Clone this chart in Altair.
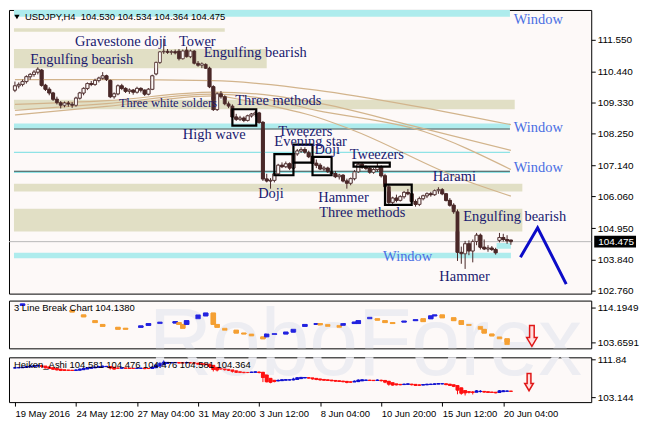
import altair as alt
import pandas as pd

# ---------------- data ----------------
OPEN = [109.78,109.93,109.98,110.08,110.25,110.33,110.41,110.48,109.95,109.81,
        109.68,109.46,109.34,109.25,109.33,109.29,109.25,109.50,109.68,109.84,
        110.01,109.98,110.12,110.20,110.28,110.12,109.55,109.65,109.93,109.84,
        109.74,109.78,109.71,109.84,109.78,109.64,109.81,110.35,110.75,111.12,
        111.14,111.10,111.13,111.15,110.88,111.18,110.95,111.15,110.72,110.65,
        110.68,110.55,109.90,109.10,109.65,109.55,109.30,109.22,108.84,108.76,
        108.80,108.72,108.88,108.94,108.98,108.65,106.67,106.60,106.62,106.85,
        107.15,107.10,107.20,107.05,107.55,107.65,107.70,107.60,107.45,107.22,
        107.15,107.02,107.05,106.92,106.86,106.75,106.80,106.60,106.52,106.68,
        106.92,107.18,107.08,107.04,106.90,107.00,107.10,106.78,106.40,105.85,
        106.00,105.92,106.05,106.20,106.15,105.88,105.78,105.98,106.08,106.15,
        106.12,106.26,106.30,106.15,105.92,105.75,105.52,104.10,104.05,104.40,
        104.15,104.48,104.70,104.28,104.22,104.25,104.20,104.52,104.62,104.55,
        104.530]
HIGH = [110.08,110.05,110.15,110.30,110.38,110.48,110.58,110.52,110.00,109.88,
        109.72,109.55,109.40,109.38,109.40,109.36,109.55,109.72,109.88,110.05,
        110.10,110.18,110.25,110.41,110.32,110.15,109.70,109.98,110.00,109.88,
        109.84,109.82,109.90,109.88,109.80,109.85,110.32,110.78,111.15,111.58,
        111.22,111.18,111.20,111.22,111.20,111.30,111.20,111.18,110.80,110.75,
        110.72,110.60,109.95,109.70,109.75,109.60,109.38,109.28,108.95,108.88,
        108.86,108.92,108.98,109.05,109.02,108.70,106.85,106.70,106.90,107.20,
        107.25,107.28,107.25,107.60,107.72,107.78,107.78,107.66,107.50,107.35,
        107.22,107.12,107.10,107.00,106.95,106.85,106.84,106.68,106.72,106.98,
        107.24,107.24,107.15,107.12,107.05,107.24,107.15,106.85,106.48,106.05,
        106.12,106.10,106.25,106.32,106.18,105.95,106.05,106.12,106.20,106.22,
        106.30,106.38,106.35,106.18,106.00,105.82,105.60,104.30,104.50,104.52,
        104.55,104.78,104.76,104.55,104.35,104.32,104.26,104.78,104.75,104.70,
        104.534]
LOW = [109.71,109.84,109.91,110.01,110.15,110.25,110.33,109.90,109.75,109.60,
       109.40,109.28,109.14,109.18,109.20,109.16,109.20,109.45,109.60,109.78,
       109.92,109.93,110.05,110.15,110.10,109.50,109.48,109.60,109.78,109.68,
       109.65,109.62,109.66,109.70,109.58,109.60,109.78,110.30,110.70,111.05,
       111.05,111.02,111.03,110.82,110.85,110.92,110.90,110.68,110.60,110.55,
       110.52,109.85,109.05,109.05,109.48,109.25,109.15,108.80,108.70,108.70,
       108.66,108.68,108.82,108.85,108.60,106.60,106.55,106.33,106.55,106.80,
       107.05,107.05,106.98,107.00,107.48,107.58,107.55,107.40,107.18,107.05,
       106.98,106.95,106.88,106.82,106.70,106.65,106.55,106.33,106.45,106.62,
       106.88,107.02,106.98,106.85,106.85,106.92,106.72,106.35,105.78,105.78,
       105.85,105.88,105.98,106.10,105.82,105.70,105.72,105.92,106.00,106.05,
       106.08,106.15,106.10,105.88,105.70,105.45,103.80,103.70,103.52,104.00,
       103.75,104.35,104.20,104.18,104.12,104.15,104.02,104.45,104.48,104.40,
       104.364]
CLOSE = [109.93,109.98,110.08,110.25,110.33,110.41,110.51,109.95,109.81,109.68,
         109.46,109.34,109.25,109.33,109.29,109.25,109.50,109.68,109.84,110.01,
         109.98,110.12,110.20,110.28,110.15,109.55,109.65,109.93,109.84,109.74,
         109.78,109.71,109.84,109.78,109.64,109.81,110.28,110.75,111.12,111.14,
         111.10,111.13,111.08,110.88,111.15,110.95,111.15,110.72,110.65,110.70,
         110.55,109.90,109.10,109.65,109.55,109.30,109.22,108.84,108.76,108.80,
         108.72,108.88,108.94,108.98,108.65,106.67,106.60,106.62,106.85,107.15,
         107.10,107.20,107.05,107.55,107.65,107.70,107.60,107.45,107.22,107.15,
         107.02,107.05,106.92,106.86,106.75,106.80,106.60,106.52,106.68,106.92,
         107.18,107.08,107.04,106.90,107.00,107.10,106.78,106.40,105.85,106.00,
         105.92,106.05,106.20,106.15,105.88,105.78,105.98,106.08,106.15,106.12,
         106.26,106.30,106.15,105.92,105.75,105.52,104.10,104.05,104.40,104.15,
         104.48,104.70,104.28,104.22,104.25,104.20,104.08,104.62,104.55,104.50,
         104.475]

X_TICKS = [0, 16, 32, 48, 64, 80, 96, 112, 128]
X_LABELS = ["19 May 2016", "24 May 12:00", "27 May 04:00", "31 May 20:00", "3 Jun 12:00",
            "8 Jun 04:00", "10 Jun 20:00", "15 Jun 12:00", "20 Jun 04:00"]
MAIN_TICKS = [111.55, 110.44, 109.33, 108.25, 107.14, 106.06, 104.95, 103.84, 102.76]
LB_TICKS = [114.1949, 103.6591]
HA_TICKS = [111.84, 103.144]

# moving averages (knots)
MA1_X = [0, 24, 52, 64, 79, 104, 130]
MA1_Y = [110.15, 110.15, 110.11, 110.01, 109.78, 109.24, 108.57]
MA2_X = [0, 24, 52, 64, 79, 104, 130]
MA2_Y = [109.28, 109.41, 109.71, 109.64, 109.34, 108.54, 107.67]
MA3_X = [0, 24, 52, 64, 79, 107, 130]
MA3_Y = [109.07, 109.31, 109.64, 109.51, 109.07, 108.34, 107.00]
MA4_X = [0, 24, 52, 64, 79, 88, 117, 130]
MA4_Y = [108.91, 109.21, 109.58, 109.31, 108.84, 108.41, 106.67, 106.07]

# support / resistance zones
KHAKI_X1 = [-0.25, -0.25, -0.25, -0.25, -0.25]
KHAKI_X2 = [55, 66, 131, 133, 133]
KHAKI_P1 = [111.95, 111.22, 109.44, 106.50, 105.63]
KHAKI_P2 = [111.82, 110.55, 109.11, 106.23, 104.83]
CYAN_X1 = [-0.25, -0.25, -0.25, 126.25]
CYAN_X2 = [129.75, 129.75, 130, 130]
CYAN_P1 = [112.59, 108.61, 104.09, 104.43]
CYAN_P2 = [112.35, 108.44, 103.89, 104.23]
CYAN_LINES = [107.60, 106.90]
DARK_LINES = [108.42, 106.94]

# pattern boxes
BOX_X1 = [57, 68, 73, 78, 88.75, 97]
BOX_X2 = [63.25, 73, 78, 83, 98.25, 104]
BOX_P1 = [109.11, 107.54, 107.87, 107.44, 107.24, 106.47]
BOX_P2 = [108.54, 106.80, 107.24, 106.80, 107.10, 105.76]

# pattern labels
ANN_TEXT = ["Gravestone doji", "Tower", "Engulfing bearish", "Engulfing bearish", "Three methods",
            "High wave", "Tweezers", "Evening star", "Doji", "Tweezers", "Doji", "Hammer",
            "Three methods", "Harami", "Engulfing bearish", "Hammer"]
ANN_I = [15.75, 43, 4, 49.5, 57.75, 44, 69, 68, 78.5, 87.75, 63.75, 79.5, 79.75, 109.5, 117.5, 111.25]
ANN_P = [111.45, 111.45, 110.85, 111.08, 109.41, 108.21, 108.31, 107.97, 107.67, 107.50,
         106.13, 106.00, 105.46, 106.73, 105.33, 103.22]
SMALL_TEXT = ["Three white solders"]
SMALL_I = [27.25]
SMALL_P = [109.34]
WIN_TEXT = ["Window", "Window", "Window", "Window"]
WIN_I = [130.75, 130.75, 130.75, 96.5]
WIN_P = [112.22, 108.44, 107.07, 103.93]

# forecast zigzag
ZIG_I = [132.5, 137, 144.5]
ZIG_P = [103.93, 104.96, 102.99]

# 3 Line Break blocks
LB_I = [2, 15, 18, 21, 23, 27, 29, 33, 35, 38, 42, 43, 44, 45, 48, 50, 52, 53, 55, 58, 60, 62, 65,
        66, 68, 71, 73, 76, 79, 80, 82, 85, 86, 89, 90, 93, 95, 97, 99, 102, 105, 107, 109, 110,
        112, 115, 117, 119, 122, 123, 125, 127, 129]
LB_TOP = [115.20, 113.33, 111.90, 110.18, 109.03, 108.17, 107.88, 108.60, 109.31, 109.75, 109.89,
          109.60, 109.03, 110.18, 111.90, 112.47, 112.47, 109.03, 107.88, 107.30, 106.44, 106.16,
          105.29, 106.16, 106.30, 106.73, 107.59, 109.03, 109.31, 109.31, 109.03, 108.74, 109.31,
          109.75, 110.18, 111.18, 110.75, 110.18, 109.60, 110.03, 110.46, 110.75, 111.61, 111.90,
          111.90, 111.04, 110.18, 109.03, 108.45, 107.59, 106.16, 105.29, 104.72]
LB_BOT = [114.77, 112.76, 111.32, 109.60, 108.45, 107.59, 107.59, 108.17, 108.74, 109.31, 109.46,
          109.03, 107.88, 109.03, 110.75, 111.61, 109.03, 108.17, 107.30, 106.44, 106.16, 105.58,
          104.72, 105.29, 106.02, 106.16, 106.73, 108.45, 109.03, 108.88, 108.45, 108.17, 108.74,
          109.31, 109.31, 110.75, 110.32, 109.60, 109.31, 109.75, 110.18, 109.89, 110.75, 111.61,
          111.04, 110.18, 109.03, 108.74, 107.59, 106.44, 105.58, 104.72, 103.00]
LB_DIR = ["U", "D", "D", "D", "D", "D", "D", "U", "U", "U", "U", "D", "D", "U", "U", "U", "D", "D",
          "D", "D", "D", "D", "D", "U", "U", "U", "U", "U", "U", "D", "D", "D", "U", "U", "U", "U",
          "D", "D", "D", "U", "U", "D", "U", "U", "D", "D", "D", "D", "D", "D", "D", "D", "D"]

ARROW_LB = (135.5, 105.58)
ARROW_HA = (134.75, 106.6)

HEADER = "USDJPY,H4\u00a0\u00a0104.530 104.534 104.364 104.475"
LB_HEADER = "3 Line Break Chart 104.1380"
HA_HEADER = "Heiken_Ashi 104.581 104.476 104.476 104.581 104.364"

# ---------------- styling ----------------
W = 585
H_MAIN, H_LB, H_HA = 285, 48, 45
X_DOMAIN = [-0.25, 149.75]
MAIN_DOMAIN = [102.655, 112.587]
LB_DOMAIN = [101.85, 116.205]
HA_DOMAIN = [102.0, 112.3]
BG = "#fdf9f8"
BROWN = "#4a2828"
KHAKI = "#e1dfc5"
CYAN = "#aeeced"
NAVY = "#191970"
WINBLUE = "#4a6fe3"
TAN = "#d2b48c"
HA_BLUE = "#1010d0"
HA_RED = "#ff1010"
SERIF = "Liberation Serif"
SANS = "Liberation Sans"

NO_X_AXIS = None
HA_X_AXIS = alt.Axis(orient="bottom", values=X_TICKS, labelAlign="left", labelOverlap=False,
                     labelExpr=str(X_LABELS) + "[round(datum.value/16)]", labelPadding=2,
                     labelFlush=False, labelFontSize=9.5)
MAIN_Y_AXIS = alt.Axis(orient="right", values=MAIN_TICKS, format=".3f", labelOverlap=False)
LB_Y_AXIS = alt.Axis(orient="right", values=LB_TICKS, format=".4f", labelOverlap=False)
HA_Y_AXIS = alt.Axis(orient="right", values=HA_TICKS, labelOverlap=False,
                     labelExpr="datum.value > 110 ? format(datum.value, '.2f') : format(datum.value, '.3f')")


def X(field, axis):
    return alt.X(field, type="quantitative",
                 scale=alt.Scale(domain=X_DOMAIN, nice=False, zero=False), axis=axis)


def Y(field, domain, axis):
    return alt.Y(field, type="quantitative",
                 scale=alt.Scale(domain=domain, nice=False, zero=False), axis=axis)


def XM(field):
    return X(field, NO_X_AXIS)


def YM(field):
    return Y(field, MAIN_DOMAIN, MAIN_Y_AXIS)


candles = pd.DataFrame({"i": list(range(len(CLOSE))), "o": OPEN, "h": HIGH, "l": LOW, "c": CLOSE})

# ---------------- main panel ----------------
khaki = alt.Chart(pd.DataFrame({"x1": KHAKI_X1, "x2": KHAKI_X2, "p1": KHAKI_P1, "p2": KHAKI_P2})
                  ).mark_rect(color=KHAKI, clip=True).encode(x=XM("x1"), x2="x2", y=YM("p1"), y2="p2")
cyan = alt.Chart(pd.DataFrame({"x1": CYAN_X1, "x2": CYAN_X2, "p1": CYAN_P1, "p2": CYAN_P2})
                 ).mark_rect(color=CYAN, clip=True).encode(x=XM("x1"), x2="x2", y=YM("p1"), y2="p2")
cyan_lines = alt.Chart(pd.DataFrame({"p": CYAN_LINES, "x1": [-0.25] * 2, "x2": [129.75] * 2})
                       ).mark_rule(color="#8fe3e6", strokeWidth=1.2).encode(x=XM("x1"), x2="x2", y=YM("p"))
dark_lines = alt.Chart(pd.DataFrame({"p": DARK_LINES, "x1": [-0.25] * 2, "x2": [129.75] * 2})
                       ).mark_rule(color="#2f4f4f", strokeWidth=1.2).encode(x=XM("x1"), x2="x2", y=YM("p"))

ma_frames = []
for name, xs, ys in [("a", MA1_X, MA1_Y), ("b", MA2_X, MA2_Y), ("c", MA3_X, MA3_Y), ("d", MA4_X, MA4_Y)]:
    ma_frames.append(pd.DataFrame({"i": xs, "p": ys, "ma": name}))
ma = alt.Chart(pd.concat(ma_frames)).mark_line(color=TAN, strokeWidth=1.2, interpolate="monotone").encode(
    x=XM("i"), y=YM("p"), detail="ma:N")

price_line = alt.Chart(pd.DataFrame({"p": [CLOSE[-1]]})).mark_rule(color="#b8b8b8", strokeWidth=1).encode(
    y=YM("p"))

wicks = alt.Chart(candles).mark_rule(color=BROWN, strokeWidth=1).encode(x=XM("i"), y=YM("l"), y2="h")
bodies = alt.Chart(candles).mark_bar(size=3, stroke=BROWN, strokeWidth=0.8).encode(
    x=XM("i"), y=YM("o"), y2="c",
    fill=alt.condition("datum.c >= datum.o", alt.value(BG), alt.value(BROWN)),
)

boxes = alt.Chart(pd.DataFrame({"x1": BOX_X1, "x2": BOX_X2, "p1": BOX_P1, "p2": BOX_P2})).mark_rect(
    fillOpacity=0, stroke="black", strokeWidth=2.2).encode(x=XM("x1"), x2="x2", y=YM("p1"), y2="p2")

ann = alt.Chart(pd.DataFrame({"t": ANN_TEXT, "i": ANN_I, "p": ANN_P})).mark_text(
    align="left", baseline="middle", font=SERIF, fontSize=14.5, color=NAVY).encode(
    x=XM("i"), y=YM("p"), text="t:N")
ann_small = alt.Chart(pd.DataFrame({"t": SMALL_TEXT, "i": SMALL_I, "p": SMALL_P})).mark_text(
    align="left", baseline="middle", font=SERIF, fontSize=12.5, color=NAVY).encode(
    x=XM("i"), y=YM("p"), text="t:N")
win = alt.Chart(pd.DataFrame({"t": WIN_TEXT, "i": WIN_I, "p": WIN_P})).mark_text(
    align="left", baseline="middle", font=SERIF, fontSize=14.5, color=WINBLUE).encode(
    x=XM("i"), y=YM("p"), text="t:N")

zig = alt.Chart(pd.DataFrame({"i": ZIG_I, "p": ZIG_P, "k": [0, 1, 2]})).mark_line(
    color="#0c0cc8", strokeWidth=3).encode(x=XM("i"), y=YM("p"), order="k:Q")

header_tri = alt.Chart(pd.DataFrame({"a": [0]})).mark_point(
    shape="triangle-down", filled=True, color="black", size=28, opacity=1).encode(
    x=alt.value(8), y=alt.value(7))
header = alt.Chart(pd.DataFrame({"t": [HEADER]})).mark_text(
    align="left", baseline="middle", font=SANS, fontSize=9.5, color="black").encode(
    x=alt.value(16), y=alt.value(7), text="t:N")

tag_df = pd.DataFrame({"p": [CLOSE[-1]], "t": ["%.3f" % CLOSE[-1]]})
tag_box = alt.Chart(tag_df).mark_point(
    shape="M-1,-0.28L1,-0.28L1,0.28L-1,0.28Z", filled=True, color="black", size=1764, opacity=1).encode(
    x=alt.value(W + 24), y=YM("p"))
tag_text = alt.Chart(tag_df).mark_text(
    align="left", baseline="middle", font=SANS, fontSize=10, color="white").encode(
    x=alt.value(W + 7), y=YM("p"), text="t:N")

main = alt.layer(bodies, khaki, cyan, cyan_lines, dark_lines, ma, price_line, wicks, bodies, boxes,
                 ann, ann_small, win, zig, header_tri, header, tag_box, tag_text
                 ).properties(width=W, height=H_MAIN)

# ---------------- 3 line break panel ----------------
arrow_shape = "M-0.22,-1L0.22,-1L0.22,0.15L0.5,0.15L0,1L-0.5,0.15L-0.22,0.15Z"


def watermark(y_px):
    return alt.Chart(pd.DataFrame({"t": ["RoboForex"]})).mark_text(
        align="center", baseline="middle", font=SANS, fontSize=88, color="#ededf2", clip=True).encode(
        x=alt.value(358), y=alt.value(y_px), text="t:N")


lb_df = pd.DataFrame({"i": LB_I, "top": LB_TOP, "bot": LB_BOT, "dir": LB_DIR})
lb_bars = alt.Chart(lb_df).mark_bar(size=4.5, strokeWidth=0.8).encode(
    x=XM("i"),
    y=Y("top", LB_DOMAIN, LB_Y_AXIS),
    y2="bot",
    fill=alt.condition("datum.dir == 'U'", alt.value("#2323e0"), alt.value("#f5a033")),
    stroke=alt.condition("datum.dir == 'U'", alt.value("#2323e0"), alt.value("#f5a033")),
)
lb_header = alt.Chart(pd.DataFrame({"t": [LB_HEADER]})).mark_text(
    align="left", baseline="middle", font=SANS, fontSize=9.5, color="black").encode(
    x=alt.value(5), y=alt.value(7), text="t:N")
lb_arrow = alt.Chart(pd.DataFrame({"i": [ARROW_LB[0]], "p": [ARROW_LB[1]]})).mark_point(
    shape=arrow_shape, filled=True, fill="#ffdede", stroke="#e01818", strokeWidth=1.5, size=440,
    opacity=1).encode(x=XM("i"), y=Y("p", LB_DOMAIN, LB_Y_AXIS))
lb_panel = alt.layer(lb_bars, watermark(43), lb_bars, lb_header, lb_arrow).properties(width=W, height=H_LB)

# ---------------- heiken ashi panel (derived from the OHLC lists) ----------------
ha_c = [(o + h + l + c) / 4 for o, h, l, c in zip(OPEN, HIGH, LOW, CLOSE)]
ha_o = [(OPEN[0] + CLOSE[0]) / 2]
for k in range(1, len(CLOSE)):
    ha_o.append((ha_o[k - 1] + ha_c[k - 1]) / 2)
ha_h = [max(h, o, c) for h, o, c in zip(HIGH, ha_o, ha_c)]
ha_l = [min(l, o, c) for l, o, c in zip(LOW, ha_o, ha_c)]
ha_df = pd.DataFrame({"i": list(range(len(CLOSE))), "o": ha_o, "c": ha_c, "h": ha_h, "l": ha_l})


def XH(field):
    return X(field, HA_X_AXIS)


def YH(field):
    return Y(field, HA_DOMAIN, HA_Y_AXIS)


ha_cond = "datum.c >= datum.o"
ha_wicks = alt.Chart(ha_df).mark_rule(strokeWidth=1).encode(
    x=XH("i"), y=YH("l"), y2="h",
    color=alt.condition(ha_cond, alt.value(HA_BLUE), alt.value(HA_RED)))
ha_bodies = alt.Chart(ha_df).mark_bar(size=3, strokeWidth=0.6).encode(
    x=XH("i"), y=YH("o"), y2="c",
    fill=alt.condition(ha_cond, alt.value(HA_BLUE), alt.value(HA_RED)),
    stroke=alt.condition(ha_cond, alt.value(HA_BLUE), alt.value(HA_RED)),
)
ha_header = alt.Chart(pd.DataFrame({"t": [HA_HEADER]})).mark_text(
    align="left", baseline="middle", font=SANS, fontSize=9.5, color="black").encode(
    x=alt.value(5), y=alt.value(8), text="t:N")
ha_arrow = alt.Chart(pd.DataFrame({"i": [ARROW_HA[0]], "p": [ARROW_HA[1]]})).mark_point(
    shape=arrow_shape, filled=True, fill="#ffdede", stroke="#e01818", strokeWidth=1.5, size=300,
    opacity=1).encode(x=XH("i"), y=YH("p"))
ha_panel = alt.layer(ha_bodies, watermark(-8), ha_wicks, ha_bodies, ha_header, ha_arrow
                     ).properties(width=W, height=H_HA)

chart = alt.vconcat(main, lb_panel, ha_panel, spacing=3).properties(
    padding=0, background="white"
).configure_view(
    stroke="black", strokeWidth=1, fill=BG
).configure_axis(
    labelFont=SANS, labelFontSize=10, labelColor="black", tickColor="black", tickSize=4,
    domain=False, grid=False, labelPadding=2, title=None
)

chart.save("out.html", embed_options={"renderer": "svg", "actions": False})
